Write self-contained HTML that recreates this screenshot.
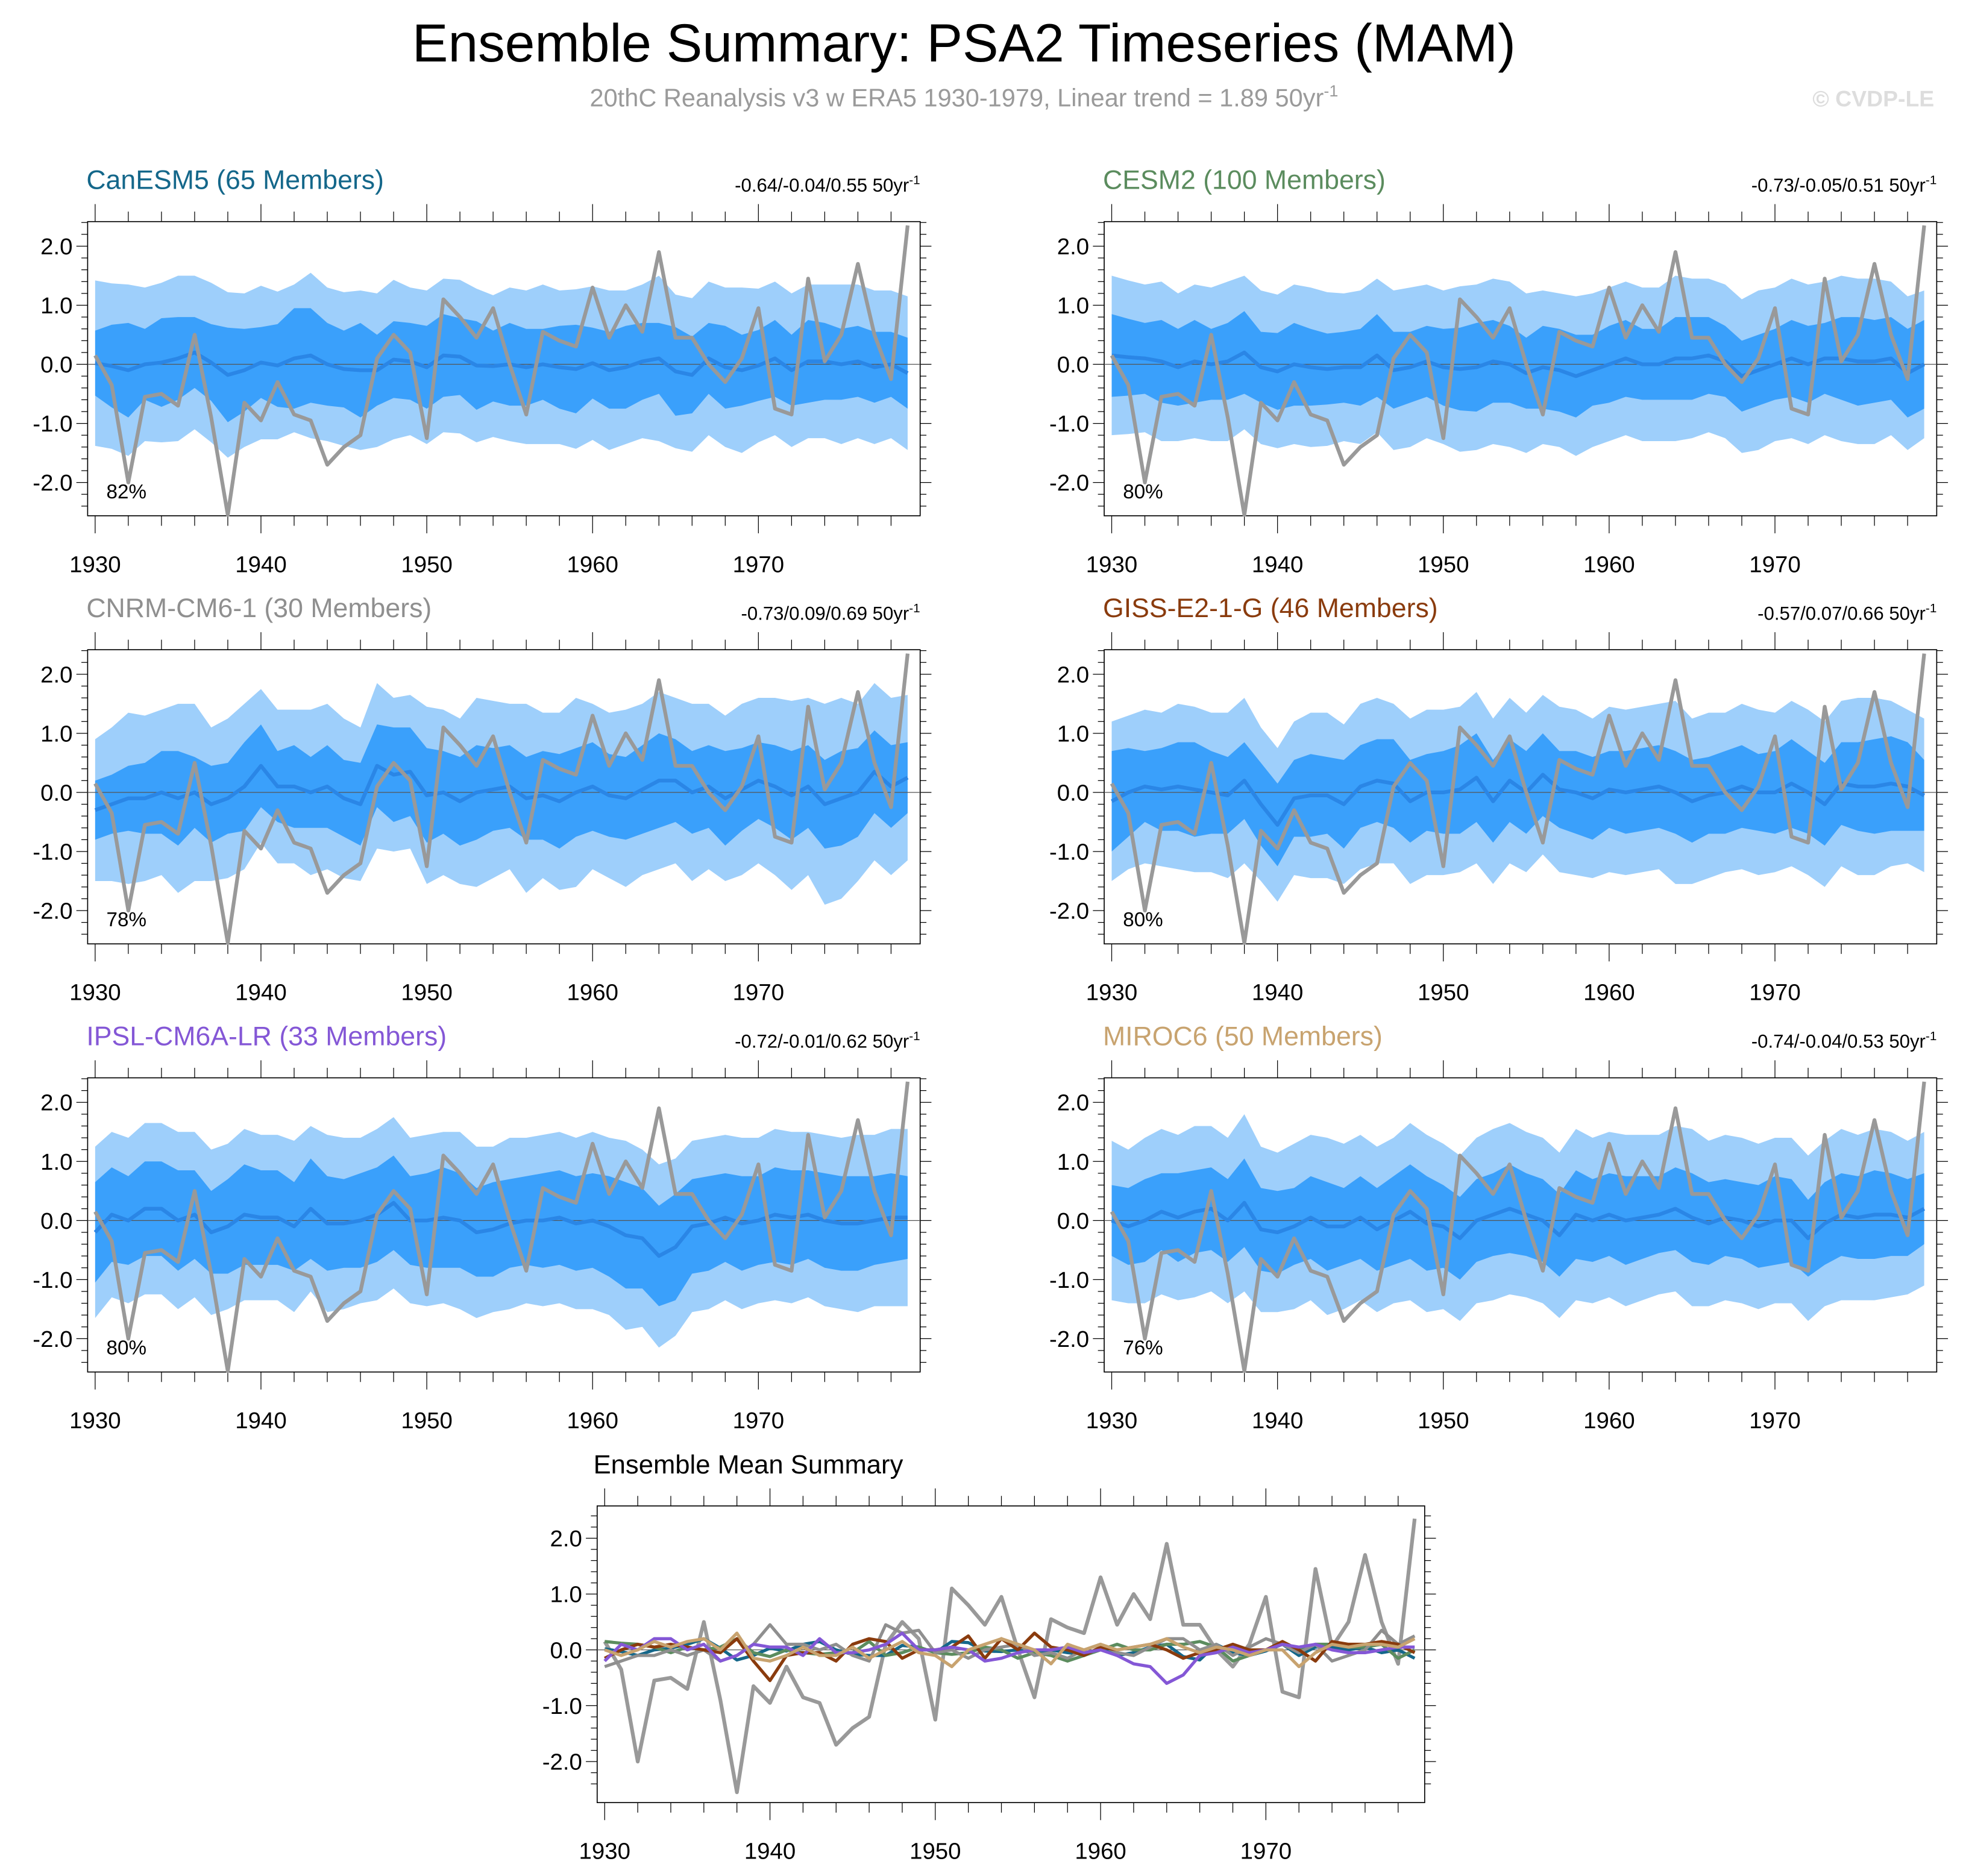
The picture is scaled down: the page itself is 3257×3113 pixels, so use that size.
<!DOCTYPE html>
<html><head><meta charset="utf-8"><style>
html,body{margin:0;padding:0;background:#fff}
svg{display:block}
text{font-family:"Liberation Sans",sans-serif}
</style></head><body>
<svg id="root" xmlns="http://www.w3.org/2000/svg" width="3257" height="3113" viewBox="0 0 1568 1498.6">
<text x="770" y="49" font-size="43" text-anchor="middle">Ensemble Summary: PSA2 Timeseries (MAM)</text>
<text x="770" y="85" font-size="20" fill="#9a9a9a" text-anchor="middle">20thC Reanalysis v3 w ERA5 1930-1979, Linear trend = 1.89 50yr<tspan font-size="13" dy="-8">-1</tspan></text>
<text x="1545" y="85" font-size="18" font-weight="bold" fill="#dddddd" text-anchor="end">© CVDP-LE</text>
</svg>
<script>
const years=[];for(let y=1930;y<=1979;y++)years.push(y);
const obs=[0.15,-0.35,-2.0,-0.55,-0.5,-0.7,0.5,-0.9,-2.55,-0.65,-0.95,-0.3,-0.85,-0.95,-1.7,-1.4,-1.2,0.1,0.5,0.2,-1.25,1.1,0.8,0.45,0.95,0.0,-0.85,0.55,0.4,0.3,1.3,0.45,1.0,0.55,1.9,0.45,0.45,0.0,-0.3,0.1,0.95,-0.75,-0.85,1.45,0.05,0.5,1.7,0.5,-0.25,2.35];
const meanCan=[0.02,-0.03,-0.1,0.0,0.03,0.1,0.2,0.03,-0.18,-0.1,0.03,-0.02,0.1,0.15,0.0,-0.08,-0.1,-0.1,0.08,0.05,-0.05,0.15,0.13,-0.02,-0.03,0.0,-0.05,0.0,-0.05,-0.08,0.02,-0.1,-0.05,0.05,0.1,-0.12,-0.18,0.1,-0.05,-0.1,-0.02,0.1,-0.1,0.05,0.05,0.0,0.05,-0.05,0.0,-0.15];
const innerCan=[0.55,0.7,0.8,0.6,0.75,0.7,0.6,0.65,0.8,0.7,0.6,0.7,0.85,0.8,0.7,0.65,0.8,0.6,0.65,0.65,0.7,0.7,0.65,0.75,0.6,0.7,0.65,0.6,0.7,0.75,0.6,0.65,0.7,0.65,0.6,0.75,0.65,0.6,0.7,0.6,0.6,0.65,0.6,0.7,0.65,0.6,0.6,0.6,0.55,0.6];
const outerCan=[1.4,1.4,1.45,1.3,1.35,1.4,1.3,1.35,1.4,1.3,1.3,1.25,1.25,1.4,1.3,1.3,1.35,1.3,1.35,1.25,1.3,1.3,1.3,1.3,1.2,1.3,1.3,1.35,1.3,1.35,1.3,1.35,1.3,1.3,1.4,1.3,1.3,1.3,1.35,1.4,1.3,1.3,1.3,1.3,1.3,1.35,1.3,1.3,1.25,1.3];
const meanCesm=[0.15,0.12,0.1,0.05,-0.05,0.05,0.0,0.05,0.2,-0.05,-0.12,0.0,-0.05,-0.08,-0.05,-0.05,0.15,-0.1,-0.05,0.05,-0.05,-0.08,-0.05,0.05,0.0,-0.15,-0.05,-0.1,-0.2,-0.1,0.0,0.1,0.0,0.0,0.1,0.1,0.15,0.05,-0.2,-0.1,0.0,0.1,0.0,0.1,0.1,0.05,0.05,0.1,-0.15,0.0];
const innerCesm=[0.7,0.65,0.6,0.7,0.65,0.7,0.6,0.65,0.7,0.6,0.65,0.7,0.65,0.6,0.6,0.65,0.7,0.65,0.6,0.6,0.65,0.7,0.75,0.7,0.65,0.6,0.7,0.7,0.7,0.6,0.65,0.65,0.6,0.6,0.7,0.7,0.65,0.6,0.6,0.6,0.6,0.65,0.65,0.6,0.7,0.75,0.7,0.7,0.75,0.75];
const outerCesm=[1.35,1.3,1.25,1.35,1.25,1.3,1.3,1.35,1.3,1.3,1.3,1.35,1.35,1.3,1.25,1.3,1.3,1.35,1.35,1.3,1.3,1.4,1.4,1.4,1.4,1.35,1.3,1.3,1.35,1.3,1.3,1.3,1.3,1.3,1.4,1.35,1.3,1.3,1.3,1.35,1.3,1.35,1.35,1.3,1.4,1.4,1.4,1.3,1.3,1.25];
const meanCnrm=[-0.3,-0.2,-0.1,-0.1,0.0,-0.1,0.0,-0.2,-0.1,0.1,0.45,0.1,0.1,0.0,0.1,-0.1,-0.2,0.45,0.3,0.35,-0.05,0.0,-0.15,0.0,0.05,0.1,-0.1,-0.05,-0.15,0.0,0.1,-0.05,-0.1,0.05,0.2,0.2,0.0,0.1,-0.1,0.05,0.2,0.1,-0.05,0.1,-0.2,-0.1,0.0,0.35,0.1,0.25];
const innerCnrm=[0.5,0.5,0.55,0.6,0.7,0.8,0.6,0.65,0.6,0.75,0.7,0.6,0.7,0.6,0.7,0.65,0.7,0.7,0.8,0.75,0.8,0.7,0.75,0.8,0.7,0.7,0.7,0.75,0.8,0.75,0.75,0.7,0.7,0.75,0.8,0.7,0.7,0.7,0.8,0.7,0.65,0.7,0.75,0.7,0.75,0.8,0.75,0.7,0.7,0.6];
const outerCnrm=[1.2,1.3,1.45,1.4,1.4,1.6,1.5,1.3,1.35,1.4,1.3,1.3,1.3,1.4,1.4,1.35,1.3,1.4,1.3,1.3,1.5,1.4,1.4,1.6,1.5,1.4,1.6,1.4,1.5,1.6,1.4,1.4,1.5,1.45,1.5,1.4,1.5,1.4,1.4,1.45,1.4,1.5,1.6,1.5,1.7,1.7,1.5,1.5,1.5,1.4];
const meanGiss=[-0.15,0.0,0.1,0.05,0.1,0.05,0.0,-0.05,0.2,-0.2,-0.55,-0.1,-0.05,-0.05,-0.2,0.1,0.2,0.15,-0.15,0.0,0.0,0.05,0.25,-0.15,0.2,0.0,0.3,0.05,0.0,-0.1,0.05,0.0,0.05,0.1,0.0,-0.15,-0.05,0.0,0.1,0.0,0.0,0.15,0.0,-0.2,0.15,0.1,0.1,0.15,0.1,-0.05];
const innerGiss=[0.85,0.75,0.6,0.7,0.75,0.8,0.7,0.65,0.65,0.7,0.7,0.65,0.7,0.65,0.75,0.7,0.7,0.75,0.7,0.65,0.7,0.75,0.75,0.7,0.7,0.7,0.7,0.65,0.7,0.7,0.65,0.7,0.7,0.7,0.7,0.7,0.65,0.7,0.7,0.65,0.7,0.75,0.7,0.7,0.7,0.75,0.8,0.8,0.75,0.6];
const outerGiss=[1.35,1.3,1.3,1.3,1.4,1.4,1.35,1.4,1.4,1.3,1.3,1.3,1.4,1.4,1.35,1.4,1.4,1.35,1.4,1.4,1.4,1.4,1.45,1.4,1.4,1.35,1.35,1.4,1.4,1.35,1.4,1.4,1.4,1.4,1.55,1.4,1.4,1.35,1.4,1.4,1.35,1.4,1.4,1.4,1.4,1.5,1.5,1.4,1.3,1.3];
const meanIpsl=[-0.2,0.1,0.0,0.2,0.2,0.0,0.1,-0.2,-0.1,0.1,0.05,0.05,-0.1,0.2,-0.05,-0.05,0.0,0.1,0.3,0.0,0.0,0.05,0.0,-0.2,-0.15,-0.05,0.0,0.0,0.05,-0.05,0.0,-0.1,-0.25,-0.3,-0.6,-0.45,-0.1,-0.05,0.05,-0.05,0.0,0.1,0.05,0.1,0.0,-0.05,-0.05,0.0,0.05,0.05];
const innerIpsl=[0.85,0.8,0.75,0.8,0.8,0.85,0.75,0.7,0.8,0.85,0.8,0.8,0.75,0.85,0.8,0.75,0.8,0.8,0.8,0.75,0.8,0.85,0.8,0.75,0.8,0.75,0.75,0.8,0.8,0.8,0.8,0.85,0.9,0.85,0.85,0.9,0.8,0.8,0.75,0.8,0.75,0.8,0.8,0.75,0.8,0.8,0.8,0.75,0.75,0.7];
const outerIpsl=[1.45,1.4,1.4,1.45,1.45,1.5,1.4,1.4,1.4,1.45,1.4,1.4,1.45,1.4,1.5,1.45,1.4,1.45,1.45,1.4,1.45,1.45,1.5,1.45,1.4,1.45,1.4,1.45,1.45,1.45,1.5,1.5,1.6,1.5,1.55,1.5,1.45,1.45,1.4,1.45,1.4,1.45,1.45,1.4,1.45,1.45,1.5,1.45,1.5,1.5];
const meanMiroc=[0.0,-0.1,0.0,0.15,0.05,0.15,0.2,0.0,0.3,-0.15,-0.2,-0.1,0.05,-0.1,-0.1,0.05,-0.15,0.0,0.15,-0.05,-0.1,-0.3,0.0,0.1,0.2,0.1,0.0,-0.25,0.1,0.0,0.1,0.0,0.05,0.1,0.2,0.05,-0.05,0.05,0.0,-0.1,0.0,0.0,-0.3,-0.05,0.1,0.05,0.1,0.1,0.05,0.2];
const innerMiroc=[0.6,0.65,0.7,0.65,0.75,0.7,0.7,0.7,0.75,0.7,0.7,0.65,0.7,0.75,0.65,0.7,0.7,0.75,0.8,0.8,0.7,0.7,0.7,0.7,0.75,0.7,0.7,0.7,0.75,0.7,0.7,0.75,0.7,0.65,0.7,0.75,0.7,0.65,0.65,0.7,0.75,0.7,0.65,0.7,0.7,0.7,0.75,0.7,0.65,0.6];
const outerMiroc=[1.35,1.3,1.4,1.4,1.4,1.45,1.4,1.4,1.5,1.4,1.35,1.4,1.4,1.5,1.4,1.4,1.4,1.4,1.5,1.5,1.4,1.4,1.4,1.45,1.45,1.4,1.4,1.4,1.45,1.4,1.4,1.45,1.4,1.35,1.4,1.5,1.4,1.4,1.4,1.4,1.4,1.4,1.4,1.4,1.45,1.4,1.45,1.4,1.3,1.3];
const panelTitles=["CanESM5 (65 Members)","CESM2 (100 Members)","CNRM-CM6-1 (30 Members)","GISS-E2-1-G (46 Members)","IPSL-CM6A-LR (33 Members)","MIROC6 (50 Members)"];
const panelColors=["#14678a","#5b8c5e","#8f8f8f","#8a3b0d","#8457d6","#c8a36f"];
const panelTrends=["-0.64/-0.04/0.55","-0.73/-0.05/0.51","-0.73/0.09/0.69","-0.57/0.07/0.66","-0.72/-0.01/0.62","-0.74/-0.04/0.53"];
const panelPct=["82%","80%","78%","80%","80%","76%"];
const yTickLabels=["2.0","1.0","0.0","-1.0","-2.0"];
const yTickVals=[2,1,0,-1,-2];
const xTickVals=[1930,1940,1950,1960,1970];
const means=[meanCan,meanCesm,meanCnrm,meanGiss,meanIpsl,meanMiroc];
const inners=[innerCan,innerCesm,innerCnrm,innerGiss,innerIpsl,innerMiroc];
const outers=[outerCan,outerCesm,outerCnrm,outerGiss,outerIpsl,outerMiroc];

const NS="http://www.w3.org/2000/svg";
const root=document.getElementById('root');
function mk(tag,attrs,parent,txt){const e=document.createElementNS(NS,tag);for(const k in attrs)e.setAttribute(k,attrs[k]);if(txt!==undefined)e.textContent=txt;(parent||root).appendChild(e);return e;}

function axesFor(box){
  const xs=v=>box.x0+(v-1930)*(box.x1-box.x0)/49;
  const ys=v=>box.y0-v*box.unit;
  return {xs,ys};
}
function drawFrame(g,box,ax){
  mk('rect',{x:box.l,y:box.t,width:box.r-box.l,height:box.b-box.t,fill:'none',stroke:'#000','stroke-width':0.8},g);
  for(let v=-2.4;v<=2.41;v+=0.2){
    const y=ax.ys(v); if(y<box.t||y>box.b) continue;
    const major=Math.abs(v-Math.round(v))<0.01&&Math.abs(Math.round(v))<=2;
    const len=major?9:5;
    mk('line',{x1:box.l-len,x2:box.l,y1:y,y2:y,stroke:'#000','stroke-width':0.6},g);
    mk('line',{x1:box.r,x2:box.r+len,y1:y,y2:y,stroke:'#000','stroke-width':0.6},g);
  }
  for(let yr=1930;yr<=1979;yr+=2){
    const x=ax.xs(yr);const major=(yr%10===0);const len=major?14:8;
    mk('line',{x1:x,x2:x,y1:box.b,y2:box.b+len,stroke:'#000','stroke-width':0.6},g);
    mk('line',{x1:x,x2:x,y1:box.t-len,y2:box.t,stroke:'#000','stroke-width':0.6},g);
  }
  yTickVals.forEach((v,i)=>{const t=mk('text',{x:box.l-12,y:ax.ys(v)+6.5,'font-size':18.5,'text-anchor':'end'},g,yTickLabels[i]);
    
    });
  xTickVals.forEach(v=>{const t=mk('text',{x:ax.xs(v),y:box.b+45,'font-size':18.5,'text-anchor':'middle'},g,String(v));
    
    });
  mk('line',{x1:box.l,x2:box.r,y1:ax.ys(0),y2:ax.ys(0),stroke:'#555','stroke-width':0.6},g);
}
function linePath(arr,ax){return arr.map((v,i)=>(i?'L':'M')+ax.xs(years[i]).toFixed(2)+','+ax.ys(v).toFixed(2)).join('');}
function bandPath(mean,half,ax){
  let d='';mean.forEach((m,i)=>{d+=(i?'L':'M')+ax.xs(years[i]).toFixed(2)+','+ax.ys(m+half[i]).toFixed(2);});
  for(let i=mean.length-1;i>=0;i--)d+='L'+ax.xs(years[i]).toFixed(2)+','+ax.ys(mean[i]-half[i]).toFixed(2);
  return d+'Z';
}
for(let p=0;p<6;p++){
  const col=p%2,row=Math.floor(p/2);
  const dx=col*812,dy=row*342;
  const box={l:70+dx,r:735+dx,t:177+dy,b:412+dy,x0:76+dx,x1:725+dx,y0:291+dy,unit:47.2};
  const ax=axesFor(box);
  const g=mk('g',{});
  
  
  const ob=mk('path',{d:bandPath(means[p],outers[p],ax),fill:'#9ecffb'},g);
  
  
  const ib=mk('path',{d:bandPath(means[p],inners[p],ax),fill:'#3aa0fb'},g);
  
  
  drawFrame(g,box,ax);
  const ml=mk('path',{d:linePath(means[p],ax),fill:'none',stroke:'#2a86e6','stroke-width':3,'stroke-linejoin':'round'},g);
  
  
  const ol=mk('path',{d:linePath(obs,ax),fill:'none',stroke:'#999','stroke-width':3,'stroke-linejoin':'round'},g);
  
  
  const tt=mk('text',{x:box.l-1,y:box.t-26,'font-size':21.5,fill:panelColors[p]},g,panelTitles[p]);
  
  
  const tr=mk('text',{x:box.r,y:box.t-24,'font-size':15,'text-anchor':'end'},g);
  
  
  tr.appendChild(document.createTextNode(panelTrends[p]+' 50yr'));
  mk('tspan',{'font-size':10,dy:-6},tr,'-1');
  const pc=mk('text',{x:box.l+15,y:box.b-14,'font-size':16},g,panelPct[p]);
  
  
}
{
  const box={l:477,r:1138,t:1203,b:1440,x0:483,x1:1130,y0:1318,unit:44.6};
  const ax=axesFor(box);
  const g=mk('g',{});
  
  
  drawFrame(g,box,ax);
  const ol=mk('path',{d:linePath(obs,ax),fill:'none',stroke:'#999','stroke-width':3,'stroke-linejoin':'round'},g);
  
  
  for(let p=0;p<6;p++){
    const l=mk('path',{d:linePath(means[p],ax),fill:'none',stroke:panelColors[p],'stroke-width':2.5,'stroke-linejoin':'round'},g);
    
    
  }
  const t=mk('text',{x:box.l-3,y:1177,'font-size':21},g,'Ensemble Mean Summary');
  
  
}
</script>
</body></html>
